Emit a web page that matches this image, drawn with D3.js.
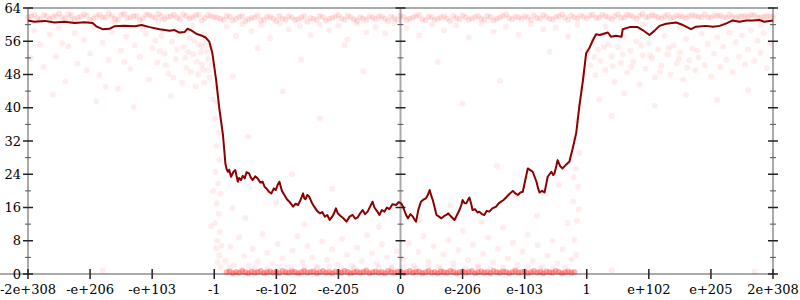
<!DOCTYPE html>
<html>
<head>
<meta charset="utf-8">
<script src="https://cdn.jsdelivr.net/npm/d3@7"></script>
<style>
  body { margin: 0; background: #fff; }
  svg { display: block; }
  text { font-family: "DejaVu Serif", serif; font-size: 13px; fill: #000; }
</style>
</head>
<body>
<div id="chart"></div>
<script>
// tick positions on the x axis (one unit per labelled tick) and their labels
const xTickValues = [-6, -5, -4, -3, -2, -1, 0, 1, 2, 3, 4, 5, 6];
const xTickLabels = ["-2e+308", "-e+206", "-e+103", "-1", "-e-102", "-e-205", "0",
                     "e-206", "e-103", "1", "e+102", "e+205", "2e+308"];
const yTicks = [0, 8, 16, 24, 32, 40, 48, 56, 64];
const yMinorTicks = [4, 12, 20, 28, 36, 44, 52, 60];
const axisPositions = [-6, 0, 6];

// moving average line [x, bits]
const avgLine = [
  [-6.00,61.0],[-5.90,60.7],[-5.73,60.9],[-5.57,60.5],[-5.41,60.7],[-5.25,60.4],[-5.09,60.6],[-4.96,60.4],
  [-4.90,59.6],[-4.80,58.9],[-4.69,59.0],[-4.61,59.6],[-4.45,59.7],[-4.28,59.6],[-4.17,59.9],[-4.04,59.4],
  [-3.88,58.9],[-3.72,58.5],[-3.64,58.7],[-3.56,58.1],[-3.48,58.2],[-3.43,59.0],[-3.37,58.6],[-3.29,57.8],
  [-3.21,57.4],[-3.14,56.9],[-3.08,55.9],[-3.03,53.1],[-2.97,46.7],[-2.92,40.0],[-2.86,33.5],[-2.82,26.5],
  [-2.80,25.2],[-2.78,24.6],[-2.76,25.1],[-2.73,23.4],[-2.71,24.0],[-2.69,24.6],[-2.66,25.0],[-2.64,23.5],
  [-2.62,22.2],[-2.60,23.1],[-2.57,22.6],[-2.54,23.6],[-2.51,23.0],[-2.48,24.5],[-2.44,24.2],[-2.41,23.2],
  [-2.38,22.6],[-2.34,23.5],[-2.30,23.0],[-2.26,22.0],[-2.22,22.2],[-2.19,21.0],[-2.16,20.6],[-2.12,19.8],
  [-2.08,19.4],[-2.04,20.6],[-2.01,20.2],[-1.98,21.4],[-1.95,22.2],[-1.91,20.0],[-1.87,19.0],[-1.83,18.0],
  [-1.79,17.4],[-1.76,16.8],[-1.73,16.2],[-1.69,16.9],[-1.65,16.6],[-1.61,17.8],[-1.57,19.4],[-1.55,18.2],
  [-1.53,18.0],[-1.50,19.0],[-1.47,18.6],[-1.43,17.2],[-1.39,16.2],[-1.35,15.3],[-1.30,14.6],[-1.26,14.9],
  [-1.22,13.8],[-1.18,14.2],[-1.14,13.0],[-1.10,13.8],[-1.07,14.6],[-1.04,15.8],[-1.01,14.6],[-0.97,14.0],
  [-0.92,13.4],[-0.87,12.6],[-0.82,13.8],[-0.77,14.2],[-0.73,13.3],[-0.69,13.6],[-0.65,14.6],[-0.61,15.4],
  [-0.57,14.4],[-0.53,15.0],[-0.49,16.2],[-0.45,17.4],[-0.42,16.0],[-0.38,15.2],[-0.34,14.2],[-0.30,15.4],
  [-0.26,15.0],[-0.22,16.0],[-0.18,15.6],[-0.13,16.8],[-0.07,16.6],[-0.03,17.3],[0.01,17.0],[0.04,16.2],
  [0.06,15.4],[0.09,14.2],[0.12,13.4],[0.16,14.4],[0.20,13.8],[0.23,13.0],[0.25,12.6],[0.29,15.6],
  [0.33,17.4],[0.37,17.9],[0.41,18.2],[0.44,19.0],[0.47,20.2],[0.50,18.6],[0.52,17.8],[0.55,16.0],
  [0.58,14.2],[0.62,13.8],[0.66,13.4],[0.70,13.9],[0.74,14.2],[0.77,14.6],[0.79,14.2],[0.83,13.6],
  [0.87,13.0],[0.91,14.2],[0.95,15.4],[0.98,16.6],[1.00,17.8],[1.03,17.1],[1.06,17.0],[1.09,17.9],
  [1.11,18.4],[1.14,16.8],[1.16,15.4],[1.20,15.6],[1.24,14.8],[1.27,15.0],[1.31,14.4],[1.35,14.2],
  [1.39,15.2],[1.43,15.0],[1.48,15.8],[1.54,16.2],[1.58,17.0],[1.62,17.4],[1.66,17.8],[1.70,18.4],
  [1.75,19.2],[1.81,20.0],[1.85,19.4],[1.89,19.0],[1.93,19.6],[1.97,19.8],[2.01,22.6],[2.05,25.4],
  [2.09,25.0],[2.13,24.6],[2.16,23.4],[2.19,22.2],[2.22,20.4],[2.24,19.6],[2.28,20.0],[2.32,19.6],
  [2.35,21.8],[2.37,23.4],[2.40,24.0],[2.43,24.6],[2.46,23.8],[2.48,24.2],[2.51,26.0],[2.53,27.4],
  [2.57,26.0],[2.61,25.4],[2.66,26.2],[2.72,27.0],[2.78,30.6],[2.83,33.9],[2.88,40.3],
  [2.94,46.7],[2.99,53.1],[3.04,54.3],[3.10,56.3],[3.15,57.7],[3.21,57.5],[3.25,57.7],[3.34,58.1],
  [3.39,57.1],[3.47,57.3],[3.56,57.1],[3.58,58.9],[3.69,59.4],[3.82,59.4],[3.90,58.7],[4.01,57.5],
  [4.09,58.5],[4.17,59.7],[4.28,60.2],[4.44,60.5],[4.55,59.9],[4.68,58.9],[4.76,59.5],[4.92,59.7],
  [5.03,59.5],[5.14,59.7],[5.25,60.3],[5.35,61.0],[5.46,60.7],[5.57,61.0],[5.67,61.0],[5.78,61.1],
  [5.86,60.7],[6.00,61.0]
];

// dense band of samples near the top
const topBand = [
  [-6.0,61.8],[-5.9,62.4],[-5.8,61.3],[-5.7,62.1],[-5.6,61.9],[-5.5,62.6],[-5.4,61.5],[-5.3,62.2],[-5.2,61.7],
  [-5.1,62.5],[-5.0,61.2],[-4.9,62.0],[-4.8,61.8],[-4.7,62.7],[-4.6,61.4],[-4.5,62.3],[-4.4,61.6],[-4.3,62.1],
  [-4.2,61.1],[-4.1,62.4],[-4.0,61.9],[-3.9,62.6],[-3.8,61.3],[-3.7,62.0],[-3.6,61.7],[-3.5,62.5],[-3.4,61.5],
  [-3.3,62.2],[-3.2,61.0],[-3.1,62.3],[-3.0,61.8],[-2.9,61.4],[-2.8,62.1],[-2.7,61.0],[-2.6,61.9],[-2.5,60.8],
  [-2.4,61.6],[-2.3,62.2],[-2.2,61.2],[-2.1,61.8],[-2.0,60.9],[-1.9,61.5],[-1.8,62.0],[-1.7,61.1],[-1.6,61.7],
  [-1.5,60.7],[-1.4,61.4],[-1.3,62.1],[-1.2,61.0],[-1.1,61.6],[-1.0,62.3],[-0.9,61.2],[-0.8,61.8],[-0.7,60.9],
  [-0.6,61.5],[-0.5,62.0],[-0.4,61.3],[-0.3,61.9],[-0.2,60.8],[-0.1,61.6],[0.0,62.2],[0.1,61.1],[0.2,61.7],
  [0.3,62.3],[0.4,61.0],[0.5,61.8],[0.6,61.4],[0.7,62.0],[0.8,60.9],[0.9,61.6],[1.0,62.2],[1.1,61.2],
  [1.2,61.9],[1.3,61.5],[1.4,62.1],[1.5,61.0],[1.6,61.7],[1.7,62.4],[1.8,61.3],[1.9,61.8],[2.0,62.0],
  [2.1,61.1],[2.2,61.6],[2.3,62.3],[2.4,61.4],[2.5,61.9],[2.6,62.5],[2.7,61.2],[2.8,61.8],[2.9,62.2],
  [3.0,61.5],[3.1,62.4],[3.2,61.7],[3.3,62.0],[3.4,61.3],[3.5,62.5],[3.6,61.8],[3.7,62.2],[3.8,61.4],
  [3.9,62.6],[4.0,61.9],[4.1,62.1],[4.2,61.5],[4.3,62.4],[4.4,61.7],[4.5,62.0],[4.6,61.6],[4.7,62.3],
  [4.8,61.9],[4.9,62.5],[5.0,61.7],[5.1,62.1],[5.2,61.8],[5.3,62.4],[5.4,61.6],[5.5,62.0],[5.6,61.9],
  [5.7,62.2],[5.8,61.7],[5.9,62.1],[6.0,61.9],
  [-5.95,62.0],[-5.85,61.6],[-5.75,62.3],[-5.65,61.4],[-5.55,62.1],[-5.45,61.8],[-5.35,62.5],[-5.25,61.3],
  [-5.15,61.9],[-5.05,62.2],[-4.95,61.5],[-4.85,62.4],[-4.75,61.7],[-4.65,62.0],[-4.55,61.2],[-4.45,62.6],
  [-4.35,61.8],[-4.25,62.1],[-4.15,61.5],[-4.05,62.3],[-3.95,61.6],[-3.85,62.0],[-3.75,61.9],[-3.65,62.4],
  [-3.55,61.3],[-3.45,62.1],[-3.35,61.8],[-3.25,62.4],[-3.15,61.6],[-3.05,62.0],[-2.95,61.7],[-2.85,61.2],
  [-2.75,61.9],[-2.65,61.4],[-2.55,62.0],[-2.45,61.3],[-2.35,61.7],[-2.25,61.0],[-2.15,61.9],[-2.05,61.5],
  [-1.95,62.1],[-1.85,61.2],[-1.75,61.8],[-1.65,61.3],[-1.55,62.0],[-1.45,61.6],[-1.35,61.1],[-1.25,61.8],
  [-1.15,61.4],[-1.05,61.9],[-0.95,61.5],[-0.85,62.1],[-0.75,61.3],[-0.65,61.8],[-0.55,61.1],[-0.45,61.7],
  [-0.35,62.0],[-0.25,61.4],[-0.15,61.9],[-0.05,61.2],[0.05,61.8],[0.15,61.4],[0.25,62.0],[0.35,61.3],
  [0.45,61.9],[0.55,61.1],[0.65,61.7],[0.75,61.5],[0.85,62.1],[0.95,61.3],[1.05,61.8],[1.15,61.5],
  [1.25,62.0],[1.35,61.2],[1.45,61.8],[1.55,61.4],[1.65,62.1],[1.75,61.6],[1.85,61.9],[1.95,61.4],
  [2.05,61.8],[2.15,62.2],[2.25,61.5],[2.35,61.9],[2.45,61.2],[2.55,62.0],[2.65,61.7],[2.75,62.2],
  [2.85,61.5],[2.95,61.9],[3.05,62.2],[3.15,61.6],[3.25,62.3],[3.35,61.8],[3.45,62.0],[3.55,61.6],
  [3.65,62.4],[3.75,61.9],[3.85,62.1],[3.95,61.7],[4.05,62.3],[4.15,61.8],[4.25,62.0],[4.35,61.6],
  [4.45,62.2],[4.55,61.9],[4.65,62.1],[4.75,62.0],[4.85,61.8],[4.95,61.8],[5.05,62.2],[5.15,62.2],
  [5.25,61.7],[5.35,61.9],[5.45,62.0],[5.55,62.1],[5.65,62.3],[5.75,61.8],[5.85,61.9],[5.95,62.0]
];

// dense band of samples at zero
const bottomBand = [
  [-2.8,0.4],[-2.75,0.6],[-2.7,0.2],[-2.65,0.5],[-2.6,0.3],[-2.55,0.7],[-2.5,0.4],[-2.45,0.2],[-2.4,0.6],
  [-2.35,0.3],[-2.3,0.5],[-2.25,0.7],[-2.2,0.2],[-2.15,0.4],[-2.1,0.6],[-2.05,0.3],[-2.0,0.5],[-1.95,0.2],
  [-1.9,0.7],[-1.85,0.4],[-1.8,0.3],[-1.75,0.6],[-1.7,0.5],[-1.65,0.2],[-1.6,0.4],[-1.55,0.7],[-1.5,0.3],
  [-1.45,0.5],[-1.4,0.6],[-1.35,0.2],[-1.3,0.4],[-1.25,0.7],[-1.2,0.3],[-1.15,0.5],[-1.1,0.2],[-1.05,0.6],
  [-1.0,0.4],[-0.95,0.3],[-0.9,0.7],[-0.85,0.5],[-0.8,0.2],[-0.75,0.4],[-0.7,0.6],[-0.65,0.3],[-0.6,0.5],
  [-0.55,0.7],[-0.5,0.2],[-0.45,0.4],[-0.4,0.6],[-0.35,0.3],[-0.3,0.5],[-0.25,0.2],[-0.2,0.7],[-0.15,0.4],
  [-0.1,0.3],[-0.05,0.6],[0.0,0.5],[0.05,0.2],[0.1,0.4],[0.15,0.7],[0.2,0.3],[0.25,0.5],[0.3,0.6],
  [0.35,0.2],[0.4,0.4],[0.45,0.7],[0.5,0.3],[0.55,0.5],[0.6,0.2],[0.65,0.6],[0.7,0.4],[0.75,0.3],
  [0.8,0.7],[0.85,0.5],[0.9,0.2],[0.95,0.4],[1.0,0.6],[1.05,0.3],[1.1,0.5],[1.15,0.7],[1.2,0.2],
  [1.25,0.4],[1.3,0.6],[1.35,0.3],[1.4,0.5],[1.45,0.2],[1.5,0.7],[1.55,0.4],[1.6,0.3],[1.65,0.6],
  [1.7,0.5],[1.75,0.2],[1.8,0.4],[1.85,0.7],[1.9,0.3],[1.95,0.5],[2.0,0.6],[2.05,0.2],[2.1,0.4],
  [2.15,0.7],[2.2,0.3],[2.25,0.5],[2.3,0.2],[2.35,0.6],[2.4,0.4],[2.45,0.3],[2.5,0.7],[2.55,0.5],
  [2.6,0.2],[2.65,0.4],[2.7,0.6],[2.75,0.3],[2.8,0.5]
];

// scattered samples
const scatter = [
  // large negatives
  [-5.9,58.5],[-5.8,55.2],[-5.75,49.8],[-5.65,57.6],[-5.55,52.4],[-5.5,59.1],[-5.4,46.3],[-5.35,54.8],
  [-5.25,58.0],[-5.2,50.6],[-5.1,56.3],[-5.0,53.1],[-4.95,59.4],[-4.85,47.9],[-4.8,55.7],[-4.7,51.5],
  [-4.65,58.2],[-4.55,44.6],[-4.5,53.8],[-4.42,57.1],[-4.35,49.3],[-4.28,55.0],[-4.2,52.2],[-4.15,59.0],
  [-4.05,46.8],[-4.0,54.3],[-3.92,50.9],[-3.85,57.4],[-3.8,53.0],[-3.74,48.2],[-3.68,55.9],[-3.62,51.7],
  [-3.56,58.3],[-3.5,54.6],[-3.45,49.6],[-3.4,56.8],[-3.34,52.9],[-3.3,45.1],[-3.25,55.3],[-3.2,50.4],
  [-3.16,57.7],[-3.12,53.6],[-3.08,47.3],[-3.05,54.9],[-3.02,42.0],[-5.6,43.2],[-4.9,41.5],[-4.3,40.2],
  [-3.7,42.8],[-5.3,61.0],[-4.6,60.4],[-3.9,60.8],[-3.35,59.8],[-5.95,52.0],[-4.75,45.0],[-3.52,46.0],
  [-3.28,51.0],[-3.22,53.4],[-3.18,49.2],[-3.1,51.8],[-3.14,55.6],[-3.04,50.3],[-3.26,48.0],[-4.8,0.8],
  [-3.95,56.2],[-3.78,50.2],[-3.6,54.0],[-3.47,52.0],[-3.38,48.6],[-3.32,56.2],[-3.2,54.8],[-3.1,49.0],
  [-3.66,47.2],[-3.88,53.6],[-4.1,57.8],[-4.45,51.0],[-5.05,49.0],[-5.45,55.6],[-3.42,53.4],[-3.16,46.0],
  // column near -1
  [-2.97,45.0],[-2.95,41.2],[-2.99,37.5],[-2.93,34.0],[-2.96,30.8],[-2.92,27.4],[-2.98,24.6],[-2.94,21.8],
  [-2.9,19.3],[-2.96,17.0],[-2.93,14.5],[-2.99,12.2],[-2.91,10.1],[-2.95,8.0],[-2.97,6.2],[-2.92,4.4],
  [-2.95,2.8],[-2.9,1.6],[-3.02,20.0],[-3.05,11.5],[-2.88,6.8],
  // small negatives, high
  [-2.8,59.5],[-2.65,57.2],[-2.55,60.1],[-2.4,58.4],[-2.25,59.9],[-2.1,56.8],[-1.95,60.3],[-1.8,58.9],
  [-1.62,59.6],[-1.45,57.5],[-1.3,60.0],[-1.15,58.6],[-1.0,59.7],[-0.85,56.4],[-0.7,60.2],[-0.55,58.1],
  [-0.4,59.4],[-0.25,57.9],[-0.1,60.4],[-2.3,54.3],[-1.6,51.6],[-0.9,55.0],[-2.7,47.5],[-1.9,44.0],
  [-0.6,48.8],[-1.3,37.5],[-2.45,33.0],
  // small negatives, low
  [-2.82,3.2],[-2.74,6.5],[-2.68,2.1],[-2.6,8.8],[-2.52,4.3],[-2.45,1.9],[-2.38,6.0],[-2.3,3.0],
  [-2.22,9.6],[-2.15,5.1],[-2.06,2.4],[-1.98,7.2],[-1.9,3.8],[-1.82,1.7],[-1.74,5.6],[-1.66,9.0],
  [-1.58,2.9],[-1.5,6.8],[-1.42,4.0],[-1.34,1.8],[-1.26,7.9],[-1.18,3.4],[-1.1,5.9],[-1.02,2.2],
  [-0.94,8.4],[-0.86,4.6],[-0.78,1.9],[-0.7,6.3],[-0.62,3.1],[-0.54,9.3],[-0.46,5.0],[-0.38,2.5],
  [-0.3,7.1],[-0.22,3.9],[-0.14,1.6],[-0.06,5.5],[-2.5,13.5],[-2.0,17.2],[-1.55,12.0],[-1.1,20.5],
  [-0.75,14.8],[-0.35,11.3],[-2.7,15.9],[-1.75,24.0],
  [-2.75,1.5],[-2.55,1.2],[-2.35,1.6],[-2.15,1.3],[-1.95,1.7],[-1.75,1.2],[-1.55,1.5],[-1.35,1.4],
  [-1.15,1.8],[-0.95,1.3],[-0.75,1.5],[-0.55,1.2],[-0.35,1.6],[-0.15,1.4],
  // small positives, low
  [0.05,3.6],[0.13,7.4],[0.21,2.0],[0.29,5.3],[0.37,9.1],[0.45,3.0],[0.53,6.6],[0.61,1.8],
  [0.69,4.7],[0.77,8.2],[0.85,2.6],[0.93,5.8],[1.01,10.4],[1.09,3.3],[1.17,7.0],[1.25,1.9],
  [1.33,4.9],[1.41,8.7],[1.49,2.8],[1.57,6.1],[1.65,11.2],[1.73,3.7],[1.81,7.6],[1.89,2.2],
  [1.97,5.4],[2.05,9.5],[2.13,3.1],[2.21,6.9],[2.29,1.7],[2.37,4.4],[2.45,8.0],[2.53,2.5],
  [2.61,5.9],[2.69,12.3],[2.75,3.5],[0.3,13.0],[0.8,16.5],[1.3,12.6],[1.85,18.8],[2.2,14.0],
  [2.55,21.5],[1.55,26.0],
  [0.05,1.5],[0.25,1.3],[0.45,1.7],[0.65,1.2],[0.85,1.5],[1.05,1.4],[1.25,1.6],[1.45,1.3],
  [1.65,1.5],[1.85,1.2],[2.05,1.7],[2.25,1.4],[2.45,1.3],[2.65,1.6],
  // column near 1
  [2.8,8.2],[2.84,12.9],[2.78,17.4],[2.86,21.0],[2.82,25.3],[2.88,29.1],[2.8,32.6],[2.85,36.8],
  [2.9,40.2],[2.83,4.6],[2.87,15.5],[2.79,23.2],[2.92,44.5],[2.95,48.0],[2.75,28.0],
  // small positives, high
  [0.1,59.2],[0.3,57.4],[0.5,60.0],[0.7,58.6],[0.9,59.8],[1.1,56.9],[1.3,60.2],[1.5,58.3],
  [1.7,59.5],[1.9,57.6],[2.1,60.1],[2.3,58.8],[2.5,59.3],[2.7,57.1],[2.85,60.0],[0.6,51.0],
  [1.6,46.5],[2.4,53.5],[1.0,41.0],
  // large positives
  [3.02,53.5],[3.06,50.2],[3.1,56.4],[3.14,47.8],[3.18,54.0],[3.22,51.3],[3.26,57.6],[3.3,49.1],
  [3.35,55.2],[3.4,52.4],[3.45,46.2],[3.5,54.6],[3.55,50.8],[3.6,57.0],[3.65,48.5],[3.7,53.7],
  [3.75,51.0],[3.8,56.0],[3.85,45.6],[3.9,52.6],[3.95,49.4],[4.0,55.5],[4.05,51.9],[4.1,47.3],
  [4.15,54.1],[4.2,50.1],[4.25,57.3],[4.3,52.8],[4.35,48.0],[4.4,55.0],[4.45,50.7],[4.5,53.3],
  [4.55,46.8],[4.6,56.5],[4.65,51.4],[4.7,54.2],[4.75,49.0],[4.8,52.1],[4.85,57.8],[4.9,50.3],
  [4.95,55.4],[5.0,47.5],[5.05,53.0],[5.1,56.9],[5.15,49.8],[5.2,54.7],[5.25,51.6],[5.3,58.1],
  [5.35,48.6],[5.4,55.8],[5.45,52.3],[5.5,57.4],[5.55,50.4],[5.6,54.0],[5.65,58.6],[5.7,51.2],
  [5.75,56.1],[5.8,53.2],[5.85,58.0],[5.9,49.5],[5.95,55.6],[3.2,42.0],[3.6,43.5],[4.1,40.5],
  [4.6,43.0],[5.1,41.8],[5.6,44.2],[3.4,38.0],[3.3,59.6],[3.9,60.0],[4.5,59.3],[5.2,60.2],
  [5.8,59.9],[5.7,0.6],[3.4,0.9],
  [3.12,52.2],[3.28,54.6],[3.42,50.0],[3.58,52.8],[3.72,49.8],[3.88,55.0],[4.02,52.6],[4.18,48.6],
  [4.32,54.4],[4.48,51.8],[4.62,49.6],[4.78,53.8]
];

const width = 800, height = 300;

const svg = d3.select("#chart").append("svg")
  .attr("width", width)
  .attr("height", height);

const x = d3.scaleLinear().domain([-6, 6]).range([28, 773]);
const y = d3.scaleLinear().domain([0, 64]).range([274, 8]);

// grey frame lines
const frame = svg.append("g").attr("stroke", "#aaa").attr("stroke-width", 2);
frame.append("line")
  .attr("x1", 0).attr("x2", x(6) + 2)
  .attr("y1", y(0)).attr("y2", y(0));
frame.append("line")
  .attr("x1", x(-6)).attr("x2", x(6) + 2)
  .attr("y1", y(64)).attr("y2", y(64));
frame.selectAll(".vaxis")
  .data(axisPositions)
  .join("line")
  .attr("x1", d => x(d)).attr("x2", d => x(d))
  .attr("y1", y(0)).attr("y2", y(64));

// samples
function drawDots(data, opacity) {
  svg.append("g")
    .selectAll("circle")
    .data(data)
    .join("circle")
    .attr("cx", d => x(d[0]))
    .attr("cy", d => y(d[1]))
    .attr("r", 3)
    .attr("fill", "#ff0000")
    .attr("fill-opacity", opacity);
}
drawDots(topBand, 0.11);
drawDots(bottomBand, 0.3);
drawDots(scatter, 0.07);

// average line
const line = d3.line()
  .x(d => x(d[0]))
  .y(d => y(d[1]));

svg.append("path")
  .datum(avgLine)
  .attr("fill", "none")
  .attr("stroke", "#8b0000")
  .attr("stroke-width", 2)
  .attr("stroke-linejoin", "round")
  .attr("d", line);

// ticks
const ticks = svg.append("g").attr("stroke", "#222");
axisPositions.forEach(a => {
  ticks.append("g").selectAll("line")
    .data(yTicks)
    .join("line")
    .attr("stroke-width", 1.5)
    .attr("x1", x(a) - 5).attr("x2", x(a) + 5)
    .attr("y1", d => y(d)).attr("y2", d => y(d));
  ticks.append("g").selectAll("line")
    .data(yMinorTicks)
    .join("line")
    .attr("stroke", "#555")
    .attr("x1", x(a) - 3).attr("x2", x(a) + 3)
    .attr("y1", d => y(d)).attr("y2", d => y(d));
});
ticks.append("g").selectAll("line")
  .data(xTickValues)
  .join("line")
  .attr("stroke-width", 1.5)
  .attr("x1", d => x(d)).attr("x2", d => x(d))
  .attr("y1", y(0) - 5).attr("y2", y(0) + 5);

// labels
svg.append("g").selectAll("text")
  .data(yTicks)
  .join("text")
  .attr("x", 21)
  .attr("y", d => y(d))
  .attr("dy", "0.36em")
  .attr("text-anchor", "end")
  .text(d => d);

svg.append("g").selectAll("text")
  .data(xTickValues)
  .join("text")
  .attr("x", d => x(d))
  .attr("y", 294)
  .attr("text-anchor", "middle")
  .text((d, i) => xTickLabels[i]);
</script>
</body>
</html>
